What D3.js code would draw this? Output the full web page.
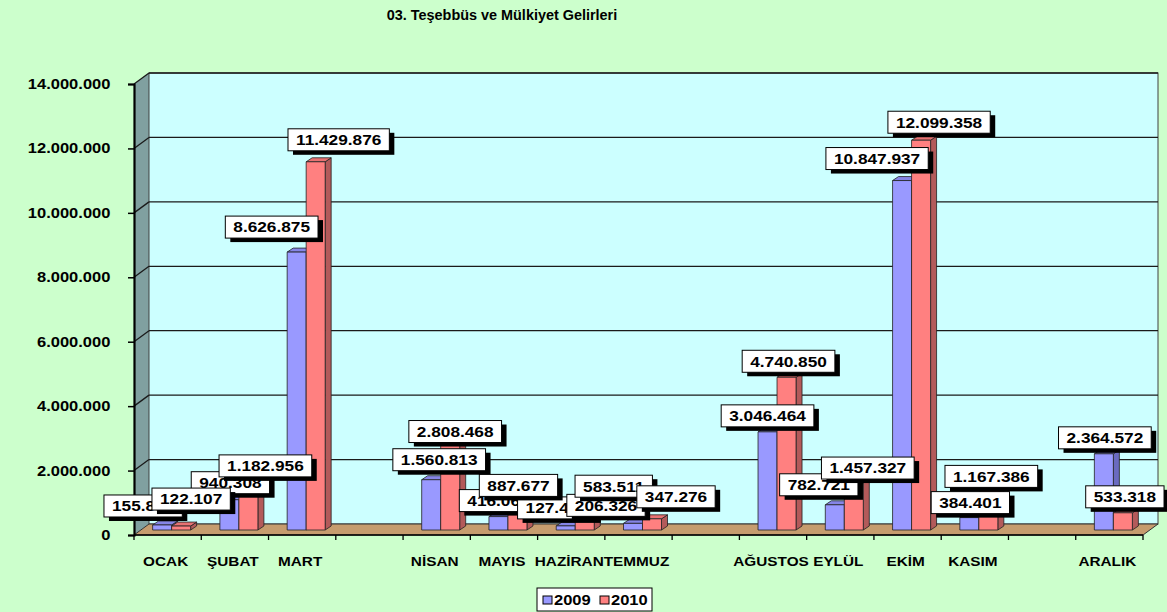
<!DOCTYPE html>
<html>
<head>
<meta charset="utf-8">
<script src="https://cdn.jsdelivr.net/npm/d3@7"></script>
<style>
  html, body { margin: 0; padding: 0; background: #ccffcc; }
  svg { display: block; font-family: "Liberation Sans", Arial, sans-serif; }
</style>
</head>
<body>
<svg id="chart" width="1167" height="612"></svg>
<script>
// ---- data ----
const chartTitle = "03. Teşebbüs ve Mülkiyet Gelirleri";
const months = ["OCAK", "ŞUBAT", "MART", "", "NİSAN", "MAYIS", "HAZİRAN", "TEMMUZ", "",
                "AĞUSTOS", "EYLÜL", "EKİM", "KASIM", "", "ARALIK"];
const seriesNames = ["2009", "2010"];
const values2009 = [155836, 940308, 8626875, null, 1560813, 416065, 127433, 206326, null,
                    3046464, 782721, 10847937, 384401, null, 2364572];
const values2010 = [122107, 1182956, 11429876, null, 2808468, 887677, 583511, 347276, null,
                    4740850, 1457327, 12099358, 1167386, null, 533318];
const yTickValues = [0, 2000000, 4000000, 6000000, 8000000, 10000000, 12000000, 14000000];

// hand-placed data label offsets (px from the top centre of each bar)
const labelNudge2009 = [[-19,-19],[1,-17],[-25,-25],null,[8,-20],[0,-16],[-9,-18],[-27,-18],null,
                        [0,-16],[-16,-20],[-25,-22],[1,-15],null,[1,-16]];
const labelNudge2010 = [[10,-27],[17,-26],[23,-22],null,[5,-8],[1,-16],[29,-25],[24,-22],null,
                        [2,-16],[14,-15],[18,-18],[3,-16],null,[2,-16]];

// ---- layout ----
const plot = { left: 134, right: 1143, top: 84, bottom: 535 };
const wallDepth = [15, -11];   // back wall offset
const barShift = [4, -5];      // bars stand part way into the floor
const barDepth = [6, -4];      // depth of each bar
const barW = 19;
const stretch = 1.18;          // wide lettering
const font = `"Liberation Sans", Arial, sans-serif`;

const colors = {
  "2009": { front: "#9999ff", side: "#6a6ac0", top: "#8585e6" },
  "2010": { front: "#ff8080", side: "#b35a5a", top: "#e87272" }
};

const trFormat = d3.formatLocale({ decimal: ",", thousands: ".", grouping: [3], currency: ["", ""] }).format(",d");

const svg = d3.select("#chart");
const x = d3.scaleBand().domain(d3.range(months.length)).range([plot.left, plot.right]);
const sub = d3.scaleBand().domain(seriesNames).range([-barW, barW]);
const y = d3.scaleLinear().domain([0, 14000000]).range([plot.bottom, plot.top]);

const [wx, wy] = wallDepth;
const L = plot.left, R = plot.right, T = plot.top, B = plot.bottom;

// ---- walls and floor ----
svg.append("polygon")
  .attr("points", [[L, B], [L, T], [L + wx, T + wy], [L + wx, B + wy]].join(" "))
  .attr("fill", "#80a0a0");

svg.append("rect")
  .attr("x", L + wx).attr("y", T + wy)
  .attr("width", R - L).attr("height", B - T)
  .attr("fill", "#ccffff").attr("stroke", "#404040").attr("stroke-width", 1);

const grid = svg.append("g").attr("stroke", "#1a1a1a").attr("stroke-width", 1.3).attr("fill", "none");
yTickValues.filter(v => v > 0).forEach(v => {
  grid.append("line")
    .attr("x1", L + wx).attr("x2", R + wx)
    .attr("y1", y(v) + wy).attr("y2", y(v) + wy);
  grid.append("line")
    .attr("x1", L).attr("x2", L + wx)
    .attr("y1", y(v)).attr("y2", y(v) + wy);
});

svg.append("polygon")
  .attr("points", [[L, B], [R, B], [R + wx, B + wy], [L + wx, B + wy]].join(" "))
  .attr("fill", "#c69c6e").attr("stroke", "#333").attr("stroke-width", 1);

// ---- axes ----
const yAxis = svg.append("g")
  .attr("transform", `translate(${L},0)`)
  .call(d3.axisLeft(y).tickValues(yTickValues).tickSize(6).tickPadding(14).tickFormat(trFormat));
yAxis.select(".domain").attr("stroke", "#000").attr("stroke-width", 2.2);
yAxis.selectAll(".tick line").attr("stroke", "#000").attr("stroke-width", 1.5);
yAxis.selectAll(".tick text")
  .attr("transform", `scale(${stretch},1)`)
  .attr("fill", "#000")
  .style("font", `bold 14px ${font}`);

svg.append("line")
  .attr("x1", L).attr("x2", R).attr("y1", B).attr("y2", B)
  .attr("stroke", "#000").attr("stroke-width", 1.6);

svg.append("g").selectAll("line")
  .data(d3.range(months.length + 1))
  .join("line")
  .attr("x1", i => i < months.length ? x(i) : R)
  .attr("x2", i => i < months.length ? x(i) : R)
  .attr("y1", B).attr("y2", B + 5)
  .attr("stroke", "#000").attr("stroke-width", 1.3);

const xAxis = svg.append("g")
  .attr("transform", `translate(-2,${B})`)
  .call(d3.axisBottom(x).tickSize(0).tickPadding(22).tickFormat(i => months[i]));
xAxis.select(".domain").remove();
xAxis.selectAll(".tick text")
  .attr("transform", `scale(${stretch},1)`)
  .attr("fill", "#000")
  .style("font", `bold 13px ${font}`);

// ---- 3D bars ----
const seriesValues = { "2009": values2009, "2010": values2010 };
const seriesNudges = { "2009": labelNudge2009, "2010": labelNudge2010 };
const [bdx, bdy] = barDepth;
const base = y(0) + barShift[1];

function barGeom(i, s) {
  const v = seriesValues[s][i];
  const bx = x(i) + x.bandwidth() / 2 + barShift[0] + sub(s);
  const by = y(v) + barShift[1];
  return { v, bx, by };
}

const bars = svg.append("g").attr("stroke", "#222").attr("stroke-width", 0.8).attr("stroke-linejoin", "round");
months.forEach((m, i) => {
  seriesNames.forEach(s => {
    if (seriesValues[s][i] == null) return;
    const { bx, by } = barGeom(i, s);
    const c = colors[s];
    bars.append("polygon")
      .attr("points", [[bx + barW, by], [bx + barW + bdx, by + bdy], [bx + barW + bdx, base + bdy], [bx + barW, base]].join(" "))
      .attr("fill", c.side);
    bars.append("polygon")
      .attr("points", [[bx, by], [bx + bdx, by + bdy], [bx + barW + bdx, by + bdy], [bx + barW, by]].join(" "))
      .attr("fill", c.top);
    bars.append("rect")
      .attr("x", bx).attr("y", by)
      .attr("width", barW).attr("height", base - by)
      .attr("fill", c.front);
  });
});

// ---- data labels ----
const labels = svg.append("g");
seriesNames.forEach(s => {
  months.forEach((m, i) => {
    if (seriesValues[s][i] == null) return;
    const { v, bx, by } = barGeom(i, s);
    const [nx, ny] = seriesNudges[s][i];
    const cx = bx + barW / 2 + nx;
    const cy = by + ny;
    const g = labels.append("g");
    const shadow = g.append("rect").attr("fill", "#000");
    const box = g.append("rect").attr("fill", "#fff").attr("stroke", "#000").attr("stroke-width", 1);
    const t = g.append("text")
      .attr("transform", `translate(${cx},${cy + 5.4}) scale(1.15,1)`)
      .attr("text-anchor", "middle")
      .style("font", `bold 15px ${font}`)
      .attr("fill", "#000")
      .text(trFormat(v));
    const w = t.node().getComputedTextLength() * 1.15 + 16;
    const h = 22;
    box.attr("x", cx - w / 2).attr("y", cy - h / 2).attr("width", w).attr("height", h);
    shadow.attr("x", cx - w / 2 + 5).attr("y", cy - h / 2 + 4).attr("width", w).attr("height", h);
  });
});

// ---- title ----
svg.append("text")
  .attr("transform", `translate(502,20) scale(1.03,1)`)
  .attr("text-anchor", "middle")
  .style("font", `bold 14px ${font}`)
  .attr("fill", "#000")
  .text(chartTitle);

// ---- legend ----
const legend = svg.append("g");
legend.append("rect")
  .attr("x", 537).attr("y", 588).attr("width", 115).attr("height", 23)
  .attr("fill", "#fff").attr("stroke", "#000").attr("stroke-width", 1);
seriesNames.forEach((s, k) => {
  const lx = 543 + k * 57;
  legend.append("rect")
    .attr("x", lx).attr("y", 596).attr("width", 9).attr("height", 8)
    .attr("fill", colors[s].front).attr("stroke", "#000").attr("stroke-width", 1);
  legend.append("text")
    .attr("transform", `translate(${lx + 11},605) scale(1.18,1)`)
    .style("font", `bold 14px ${font}`)
    .attr("fill", "#000")
    .text(s);
});
</script>
</body>
</html>
